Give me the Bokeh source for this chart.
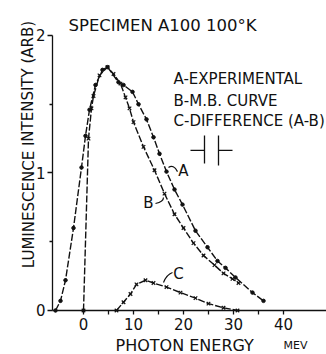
from bokeh.plotting import figure
from bokeh.models import FixedTicker, Label, Range1d
from bokeh.embed import file_html
from bokeh.resources import INLINE

# ---- data (photon energy in meV, intensity arb.) ----
a_energy = [-5.6, -4.6, -3.6, -2.0, -0.4, 0.4, 1.2, 2.4, 3.8, 4.8, 7.0, 8.0, 9.8, 11.0,
            12.6, 14.0, 15.2, 16.6, 18.2, 19.8, 22.4, 24.8, 26.8, 28.4, 30.4, 33.8, 36.0]
a_intensity = [0.0, 0.07, 0.22, 0.60, 1.04, 1.27, 1.46, 1.64, 1.75, 1.77, 1.66, 1.64, 1.59, 1.50,
               1.39, 1.26, 1.14, 1.01, 0.88, 0.77, 0.58, 0.46, 0.36, 0.31, 0.24, 0.13, 0.07]

b_energy = [0.0, 1.0, 1.6, 2.0, 3.2, 4.8, 6.0, 7.4, 8.4, 9.2, 10.0, 12.0, 14.2,
            16.2, 18.2, 20.0, 22.0, 24.0, 26.2, 28.0, 29.8, 31.0]
b_intensity = [0.0, 1.25, 1.47, 1.56, 1.71, 1.77, 1.72, 1.65, 1.55, 1.47, 1.37, 1.19, 1.02,
               0.85, 0.70, 0.60, 0.49, 0.40, 0.33, 0.27, 0.23, 0.20]

c_energy = [6.6, 8.0, 9.4, 10.6, 12.4, 14.0, 16.6, 19.4, 22.4, 25.0, 28.0, 30.8]
c_intensity = [0.0, 0.06, 0.12, 0.19, 0.22, 0.20, 0.17, 0.13, 0.09, 0.05, 0.02, 0.0]

x_ticks = [0, 10, 20, 30, 40]
x_minor_ticks = [5, 15, 25, 35]
y_ticks = [0, 1, 2]
y_minor_ticks = [0.5, 1.5]

title_text = "SPECIMEN A100 100°K"
legend_lines = ["A-EXPERIMENTAL", "B-M.B. CURVE", "C-DIFFERENCE (A-B)"]
x_label = "PHOTON ENERGY"
x_unit = "MEV"
y_label = "LUMINESCENCE INTENSITY (ARB)"

INK = "#111111"
FONT = "DejaVu Sans"
X_AXIS_START = -6.2   # where the vertical axis stands
Y_AXIS_TOP = 2.0

p = figure(width=326, height=354, x_range=Range1d(-16.6, 48.6), y_range=Range1d(-0.32, 2.2545),
           output_backend="svg", toolbar_location=None,
           min_border_left=0, min_border_right=0, min_border_top=0, min_border_bottom=0)
p.title.visible = False
p.xgrid.visible = False
p.ygrid.visible = False
p.outline_line_color = None
p.background_fill_color = "white"

p.xaxis.fixed_location = 0
p.xaxis.bounds = (X_AXIS_START, 48.6)
p.yaxis.fixed_location = X_AXIS_START
p.yaxis.bounds = (0, Y_AXIS_TOP)

p.xaxis.ticker = FixedTicker(ticks=x_ticks, minor_ticks=x_minor_ticks)
p.yaxis.ticker = FixedTicker(ticks=y_ticks, minor_ticks=y_minor_ticks)
for ax in (p.xaxis, p.yaxis):
    ax.axis_line_color = INK
    ax.axis_line_width = 1.3
    ax.major_tick_line_color = INK
    ax.minor_tick_line_color = INK
    ax.major_tick_line_width = 1.3
    ax.minor_tick_line_width = 1.3
    ax.major_tick_in = 0
    ax.minor_tick_in = 0
    ax.major_label_text_font = FONT
    ax.major_label_text_font_size = "15px"
    ax.major_label_text_color = INK
p.xaxis.major_tick_out = 4
p.xaxis.minor_tick_out = 4
p.xaxis.major_label_standoff = 4
p.yaxis.major_tick_out = 5
p.yaxis.minor_tick_out = 3
p.yaxis.major_label_standoff = 2

# curves
p.line(a_energy, a_intensity, line_width=1.4, line_dash="7 2", color=INK)
p.scatter(a_energy, a_intensity, marker="circle", size=3.5, color=INK)
p.line(b_energy, b_intensity, line_width=1.4, line_dash="7 2", color=INK)
p.scatter(b_energy, b_intensity, marker="x", size=5, line_width=1.2, color=INK)
p.line(c_energy, c_intensity, line_width=1.4, line_dash="7 2", color=INK)
p.scatter(c_energy, c_intensity, marker="x", size=5, line_width=1.2, color=INK)

# curve label leaders (annotation positions, data units)
p.quadratic(x0=[17.0, 14.4, 16.0], y0=[1.04, 0.778, 0.204],
            x1=[18.8, 16.0, 17.8], y1=[1.01, 0.822, 0.276],
            cx=[18.0, 16.0, 16.6], cy=[1.065, 0.79, 0.26],
            line_color=INK, line_width=1.2)

# resolution (slit width) symbol
p.segment(x0=[21.4, 24.2, 27.0, 27.0], y0=[1.164, 1.069, 1.055, 1.164],
          x1=[24.2, 24.2, 27.0, 29.8], y1=[1.164, 1.273, 1.273, 1.164],
          line_color=INK, line_width=1.3)

def add_text(x, y, text, size="15px", align="left", baseline="alphabetic", angle=0.0):
    p.add_layout(Label(x=x, y=y, text=text, text_font=FONT, text_font_size=size,
                       text_color=INK, text_align=align, text_baseline=baseline,
                       angle=angle))

add_text(-3.0, 2.073, title_text, size="16.5px")
for i, line in enumerate(legend_lines):
    add_text(18.0, [1.687, 1.527, 1.375][i], line)
add_text(20.0, 1.011, "A", align="center", baseline="middle")
add_text(13.0, 0.785, "B", align="center", baseline="middle")
add_text(19.0, 0.269, "C", align="center", baseline="middle")
add_text(6.4, -0.2545, x_label, size="16px")
add_text(40.0, -0.2545, x_unit, size="11px")
add_text(-11.0, 1.207, y_label, align="center", angle=1.5708)

open("out.html", "w").write(file_html(p, INLINE))
